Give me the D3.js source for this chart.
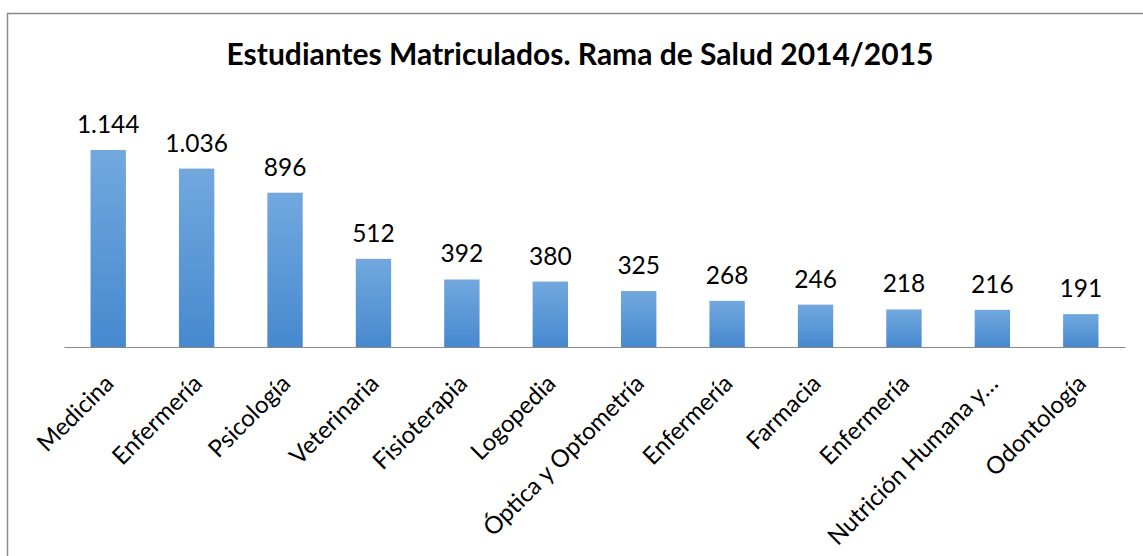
<!DOCTYPE html>
<html><head><meta charset="utf-8">
<script src="https://cdn.jsdelivr.net/npm/d3@7"></script>
<style>body{margin:0;background:#fff;}svg{display:block;}text{font-family:Lato,"Open Sans",sans-serif;}</style>
</head><body>
<svg id="c" width="1143" height="556"></svg>
<script>
const categories = ["Medicina","Enfermería","Psicología","Veterinaria","Fisioterapia","Logopedia","Óptica y Optometría","Enfermería","Farmacia","Enfermería","Nutrición Humana y…","Odontología"];
const values = [1144,1036,896,512,392,380,325,268,246,218,216,191];
const valueLabels = ["1.144","1.036","896","512","392","380","325","268","246","218","216","191"];
const title = "Estudiantes Matriculados. Rama de Salud 2014/2015";

const svg = d3.select("#c");
const defs = svg.append("defs");
const g = defs.append("linearGradient").attr("id","bg").attr("x1",0).attr("y1",0).attr("x2",0).attr("y2",1);
g.append("stop").attr("offset","0%").attr("stop-color","#72a8de");
g.append("stop").attr("offset","100%").attr("stop-color","#4689cf");

svg.append("rect").attr("x",7.5).attr("y",13.5).attr("width",1200).attr("height",600)
  .attr("fill","#fff").attr("stroke","#8a8a8a").attr("stroke-width",1.5);

const x = d3.scaleBand().domain(d3.range(categories.length)).range([64,1125]).paddingInner(0.6).paddingOuter(0.3);
const y = d3.scaleLinear().domain([0,1144]).range([347,150]);

svg.append("text").attr("x",580).attr("y",65).attr("text-anchor","middle")
  .attr("font-size",30).attr("font-weight","bold").attr("fill","#000").text(title);

svg.selectAll("rect.bar").data(values).join("rect").attr("class","bar")
  .attr("x",(d,i)=>x(i)).attr("width",x.bandwidth())
  .attr("y",d=>y(d)).attr("height",d=>y(0)-y(d)).attr("fill","url(#bg)");

svg.selectAll("text.val").data(values).join("text").attr("class","val")
  .attr("x",(d,i)=>x(i)+x.bandwidth()/2).attr("y",d=>y(d)-17)
  .attr("text-anchor","middle").attr("font-size",24.5).attr("fill","#000")
  .text((d,i)=>valueLabels[i]);

const axis = d3.axisBottom(x).tickSize(0).tickFormat(i=>categories[i]);
const ax = svg.append("g").attr("transform","translate(0,347)").call(axis);
ax.select(".domain").attr("stroke","#8a8a8a").attr("stroke-width",1.2);
ax.selectAll("text").attr("font-size",24).attr("fill","#000")
  .attr("text-anchor","end").attr("dy",0).attr("y",0)
  .attr("transform","translate(7,38) rotate(-45)");
</script>
</body></html>
